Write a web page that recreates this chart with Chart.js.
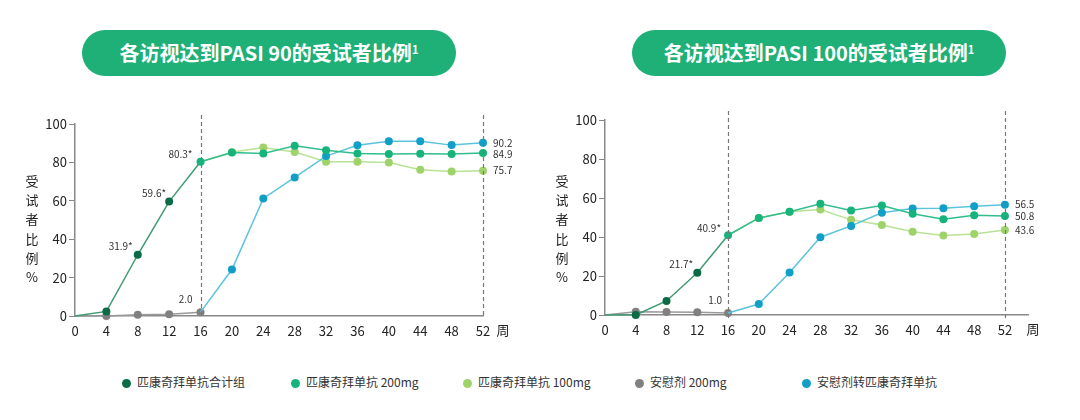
<!DOCTYPE html>
<html>
<head>
<meta charset="utf-8">
<script src="https://cdn.jsdelivr.net/npm/chart.js@4.4.1/dist/chart.umd.min.js"></script>
<style>
  body { margin: 0; background: #fff; font-family: "Noto Sans CJK SC", "Noto Sans", sans-serif; }
  #wrap { position: relative; width: 1080px; height: 420px; overflow: hidden; }
  canvas { position: absolute; top: 90px; }
  .pill { position: absolute; top: 30px; height: 46px; width: 374px; border-radius: 23px; background: #1fb077;
          color: #fff; font-weight: bold; font-size: 20px; line-height: 46px; text-align: center; }
  .pill sup { font-size: 11px; vertical-align: 7px; line-height: 0; }
  .leg { position: absolute; top: 373px; font-size: 12px; color: #333; line-height: 18px; white-space: nowrap; }
  .leg i { display: inline-block; width: 9px; height: 9px; border-radius: 50%; margin-right: 6px; vertical-align: -1px; }
</style>
</head>
<body>
<div id="wrap">
  <div class="pill" style="left:82px">各访视达到PASI 90的受试者比例<sup>1</sup></div>
  <div class="pill" style="left:632px">各访视达到PASI 100的受试者比例<sup>1</sup></div>
  <canvas id="c90" width="540" height="260" style="left:0"></canvas>
  <canvas id="c100" width="540" height="260" style="left:540px"></canvas>
  <div class="leg" style="left:122px"><i style="background:#0b6b45"></i>匹康奇拜单抗合计组</div>
  <div class="leg" style="left:291px"><i style="background:#16b47b"></i>匹康奇拜单抗 200mg</div>
  <div class="leg" style="left:463px"><i style="background:#9ed36a"></i>匹康奇拜单抗 100mg</div>
  <div class="leg" style="left:635px"><i style="background:#808080"></i>安慰剂 200mg</div>
  <div class="leg" style="left:802px"><i style="background:#129fc7"></i>安慰剂转匹康奇拜单抗</div>
</div>
<script>
// weeks on the x axis
const weeks = [0, 4, 8, 12, 16, 20, 24, 28, 32, 36, 40, 44, 48, 52];
const yTitle = ['受', '试', '者', '比', '例', '%'];

// PASI 90 (%), aligned with weeks, null = no value
const p90Total   = [0, 2.4, 31.9, 59.6, 80.3, null, null, null, null, null, null, null, null, null];
const p90Placebo = [0, 0, 0.7, 0.9, 2.0, null, null, null, null, null, null, null, null, null];
const p90Dose200 = [null, null, null, null, 80.3, 85.2, 84.7, 88.7, 86.3, 84.7, 84.4, 84.5, 84.4, 84.9];
const p90Dose100 = [null, null, null, null, 80.3, 85.3, 87.8, 85.4, 80.4, 80.4, 79.9, 76.2, 75.2, 75.7];
const p90Switch  = [null, null, null, null, 2.0, 24.2, 61.2, 72.2, 83.3, 88.9, 91.0, 91.0, 89.0, 90.2];

// PASI 100 (%)
const p100Total   = [0, 0, 7.2, 21.7, 40.9, null, null, null, null, null, null, null, null, null];
const p100Placebo = [0, 1.7, 1.6, 1.4, 1.0, null, null, null, null, null, null, null, null, null];
const p100Dose200 = [null, null, null, null, 40.9, 49.8, 52.9, 57.0, 53.6, 56.1, 51.9, 49.1, 51.2, 50.8];
const p100Dose100 = [null, null, null, null, 40.9, 49.8, 53.0, 54.1, 48.8, 46.1, 42.7, 40.8, 41.6, 43.6];
const p100Switch  = [null, null, null, null, 1.0, 5.6, 21.8, 39.9, 45.7, 52.4, 54.6, 54.7, 55.8, 56.5];

function pts(arr) {
  return weeks.map((w, i) => ({ x: w, y: arr[i] })).filter(p => p.y !== null);
}

// first dataset is drawn on top
function makeSets(total, placebo, d200, d100, sw) {
  return [
    { data: pts(d200), borderColor: '#32bd8c', pointBackgroundColor: '#16b47b', pointRadius: 4 },
    { data: pts(sw), borderColor: '#5bc3dd', pointBackgroundColor: '#129fc7', pointRadius: [0, 4, 4, 4, 4, 4, 4, 4, 4, 4] },
    { data: pts(total), borderColor: '#3f9a70', pointBackgroundColor: '#0b6b45', pointRadius: [0, 4, 4, 4, 0] },
    { data: pts(placebo), borderColor: '#9a9a9a', pointBackgroundColor: '#808080', pointRadius: [0, 4, 4, 4, 4] },
    { data: pts(d100), borderColor: '#b9e296', pointBackgroundColor: '#9ed36a', pointRadius: [0, 4, 4, 4, 4, 4, 4, 4, 4, 4] }
  ];
}

// dashed lines, data labels, axis titles
const extras = {
  id: 'extras',
  afterDatasetsDraw(chart, args, opts) {
    const { ctx, chartArea, scales } = chart;
    ctx.save();
    ctx.strokeStyle = '#777';
    ctx.lineWidth = 1.2;
    ctx.setLineDash([4, 3]);
    [16, 52].forEach(v => {
      const x = Math.round(scales.x.getPixelForValue(v)) + 0.5;
      ctx.beginPath();
      ctx.moveTo(x, chartArea.top - 9);
      ctx.lineTo(x, chartArea.bottom + opts.dashBelow);
      ctx.stroke();
    });
    ctx.setLineDash([]);

    ctx.font = '10px "Noto Sans CJK SC", "Noto Sans", sans-serif';
    ctx.fillStyle = '#333';
    ctx.textBaseline = 'middle';
    opts.labels.forEach(l => {
      const p = chart.getDatasetMeta(l.ds).data[l.i];
      ctx.textAlign = l.dx < 0 ? 'right' : 'left';
      ctx.fillText(l.text, p.x + l.dx, p.y + l.dy);
    });

    ctx.font = '13px "Noto Sans CJK SC", sans-serif';
    ctx.fillStyle = '#222';
    ctx.textAlign = 'center';
    yTitle.forEach((ch, k) => ctx.fillText(ch, opts.titleX, 91 + k * 19.2));
    ctx.fillText('周', opts.weekX, chartArea.bottom + 14);
    ctx.restore();
  }
};

function makeChart(id, sets, cfg) {
  return new Chart(document.getElementById(id), {
    type: 'line',
    data: { datasets: sets.map(s => Object.assign({ borderWidth: 1.5, pointBorderWidth: 0, pointHoverRadius: 4, clip: false, tension: 0 }, s)) },
    plugins: [extras],
    options: {
      responsive: false,
      animation: false,
      layout: { padding: { top: cfg.top, right: cfg.right, left: 0, bottom: 0 } },
      plugins: {
        legend: { display: false },
        tooltip: { enabled: false },
        extras: { labels: cfg.labels, titleX: cfg.titleX, weekX: cfg.weekX, dashBelow: cfg.dashBelow }
      },
      scales: {
        x: {
          type: 'linear', min: 0, max: cfg.xMax,
          afterBuildTicks: s => { s.ticks = weeks.map(v => ({ value: v })); },
          afterFit: s => { s.height = cfg.bottom; },
          grid: { drawOnChartArea: false, drawTicks: false },
          border: { color: '#888', width: 1.5 },
          ticks: { padding: 7, color: '#222', font: { size: 13, family: '"Noto Sans CJK SC", sans-serif' } }
        },
        y: {
          min: 0, max: 100,
          afterFit: s => { s.width = cfg.yWidth; },
          grid: { drawOnChartArea: false, tickLength: 6, color: '#888' },
          border: { color: '#888', width: 1.5 },
          ticks: { stepSize: 20, padding: 2, color: '#222', font: { size: 13, family: '"Noto Sans CJK SC", sans-serif' } }
        }
      }
    }
  });
}

// dataset indexes: 0 = 200mg, 1 = switch, 2 = total, 3 = placebo, 4 = 100mg
makeChart('c90', makeSets(p90Total, p90Placebo, p90Dose200, p90Dose100, p90Switch), {
  top: 34, right: 57, bottom: 34, yWidth: 75, xMax: 52, titleX: 32, weekX: 503, dashBelow: 0,
  labels: [
    { ds: 2, i: 2, text: '31.9*', dx: -5, dy: -9 },
    { ds: 2, i: 3, text: '59.6*', dx: -3, dy: -8 },
    { ds: 0, i: 0, text: '80.3*', dx: -8, dy: -8 },
    { ds: 3, i: 4, text: '2.0', dx: -8, dy: -13 },
    { ds: 1, i: 9, text: '90.2', dx: 10, dy: 0 },
    { ds: 0, i: 9, text: '84.9', dx: 10, dy: 1 },
    { ds: 4, i: 9, text: '75.7', dx: 10, dy: 0 }
  ]
});

makeChart('c100', makeSets(p100Total, p100Placebo, p100Dose200, p100Dose100, p100Switch), {
  top: 30, right: 52, bottom: 35, yWidth: 65, xMax: 55, titleX: 22, weekX: 493, dashBelow: 6,
  labels: [
    { ds: 2, i: 3, text: '21.7*', dx: -4, dy: -8 },
    { ds: 0, i: 0, text: '40.9*', dx: -7, dy: -7 },
    { ds: 3, i: 4, text: '1.0', dx: -6, dy: -13 },
    { ds: 1, i: 9, text: '56.5', dx: 10, dy: -1 },
    { ds: 0, i: 9, text: '50.8', dx: 10, dy: 0 },
    { ds: 4, i: 9, text: '43.6', dx: 10, dy: 0 }
  ]
});
</script>
</body>
</html>
